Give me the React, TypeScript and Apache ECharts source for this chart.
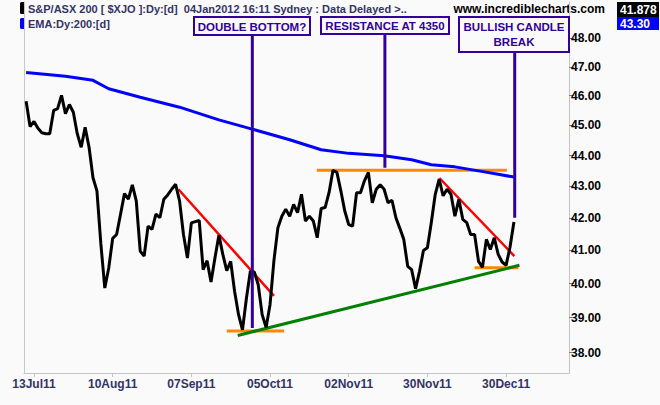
import React, { useEffect, useRef } from 'react';
import * as echarts from 'echarts';

// Trading-day index of first price value (11 Jul 2011 = -2, 13 Jul 2011 = 0)
const startIdx = -2;

// S&P/ASX 200 daily close (thousands), 11 Jul 2011 .. 04 Jan 2012
const priceVals = [
  45.81, 44.96, 45.13, 44.90, 44.75, 44.72, 44.72, 45.50, 45.56, 46.01,
  45.39, 45.70, 45.44, 44.72, 44.27, 44.93, 44.27, 43.28, 42.86, 41.20,
  39.87, 40.47, 41.37, 41.49, 42.12, 42.77, 42.60, 43.05, 42.54, 40.98,
  40.83, 41.75, 41.65, 42.12, 42.01, 42.59, 42.73, 42.91, 43.07, 42.54,
  41.49, 40.77, 41.85, 41.89, 41.93, 40.42, 40.69, 40.05, 40.77, 41.47,
  40.88, 40.39, 40.67, 39.77, 39.09, 38.65, 39.57, 40.37, 40.35, 39.97,
  39.09, 38.72, 39.38, 40.70, 41.70, 42.06, 42.28, 42.06, 42.43, 42.17,
  42.75, 41.91, 42.06, 41.91, 41.39, 42.30, 42.33, 42.80, 43.52, 43.45,
  42.86, 42.22, 41.80, 41.75, 42.80, 42.80, 43.18, 43.45, 42.48, 42.91,
  43.05, 42.91, 42.48, 42.56, 42.01, 41.68, 41.34, 40.52, 40.42, 39.85,
  40.37, 41.00, 41.08, 41.86, 42.75, 43.23, 42.70, 42.91, 42.75, 42.06,
  42.59, 41.96, 41.86, 41.49, 41.49, 40.67, 40.49, 41.34, 41.03, 41.39,
  40.88, 40.65, 40.55, 41.10, 41.878,
];

// EMA 200 readings (trading-day index, value)
const emaIdx = [-2, 8, 15, 19, 27, 37, 47, 55, 65, 73, 80, 89, 96, 101, 107, 113, 118, 122];
const emaVals = [46.80, 46.67, 46.53, 46.24, 45.95, 45.61, 45.18, 44.89, 44.52, 44.19, 44.07, 43.99, 43.86, 43.70, 43.63, 43.50, 43.39, 43.30];

// X tick labels
const tickIdx = [0, 20, 40, 60, 80, 100, 120];
const tickLabels = ['13Jul11', '10Aug11', '07Sep11', '05Oct11', '02Nov11', '30Nov11', '30Dec11'];

// Y tick labels
const yTicks = [38, 39, 40, 41, 42, 43, 44, 45, 46, 47, 48];

// Annotation segments [index, value]
const redLines = [
  [[36.7, 42.91], [61.0, 39.64]],
  [[103.05, 43.27], [122.1, 40.83]],
];
const greenLine = [[51.8, 38.49], [123.4, 40.55]];
const orangeLines = [
  [[49.0, 38.62], [63.6, 38.62]],
  [[71.9, 43.52], [120.2, 43.52]],
  [[112.0, 40.48], [123.1, 40.48]],
];
const purpleLines = [
  [[55.5, 48.12], [55.5, 38.70]],
  [[89.2, 48.18], [89.2, 43.60]],
  [[122.2, 47.52], [122.2, 42.01]],
];

const lastPrice = '41.878';
const lastEma = '43.30';

const FONT = '"Liberation Sans", Arial, sans-serif';
const NARROW = '"Liberation Sans Narrow", "Liberation Sans", Arial, sans-serif';
const PURPLE = '#330099';

const toLog = (pts: number[][]) => pts.map(([i, v]) => [i, Math.log(v)]);

const seg = (pts: number[][], color: string, width: number, z: number) => ({
  type: 'line',
  data: toLog(pts),
  showSymbol: false,
  symbol: 'none',
  silent: true,
  lineStyle: { color, width },
  z,
});

export default function App() {
  const ref = useRef<HTMLDivElement>(null);
  useEffect(() => {
    document.body.style.margin = '0';
    const chart = echarts.init(ref.current!, null, { renderer: 'svg' });
    const priceData = priceVals.map((v, i) => [i + startIdx, Math.log(v)]);
    const emaData = emaVals.map((v, i) => [emaIdx[i], Math.log(v)]);
    const yMin = Math.log(37.43);
    const yMax = Math.log(49.32);
    const logTicks = yTicks.map((t) => Math.log(t));

    const option: any = {
      animation: false,
      backgroundColor: '#fafafa',
      grid: { left: 24, right: 91, top: 2, bottom: 32, containLabel: false, outerBoundsMode: 'none' },
      xAxis: {
        type: 'value',
        min: -2.54,
        max: 136.0,
        axisLine: { show: true, onZero: false, lineStyle: { color: '#c4c4c4', width: 1 } },
        axisTick: { show: true, customValues: tickIdx, length: 4, lineStyle: { color: '#c4c4c4' } },
        axisLabel: {
          customValues: tickIdx,
          formatter: (v: number) => tickLabels[tickIdx.indexOf(Math.round(v))] ?? '',
          color: '#333366',
          fontWeight: 'bold',
          fontSize: 12,
          fontFamily: NARROW,
          margin: 5,
        },
        splitLine: { show: false },
      },
      yAxis: [
        {
          type: 'value',
          position: 'right',
          min: yMin,
          max: yMax,
          axisLine: { show: true, onZero: false, lineStyle: { color: '#c4c4c4', width: 1 } },
          axisTick: { show: true, customValues: logTicks, length: 5, lineStyle: { color: '#777' } },
          axisLabel: {
            customValues: logTicks,
            formatter: (v: number) => Math.exp(v).toFixed(2),
            color: '#000',
            fontWeight: 'bold',
            fontSize: 12,
            fontFamily: FONT,
            margin: 2,
          },
          splitLine: { show: false },
        },
        {
          type: 'value',
          position: 'left',
          min: yMin,
          max: yMax,
          axisLine: { show: true, onZero: false, lineStyle: { color: '#c8c8c8', width: 1 } },
          axisTick: { show: false },
          axisLabel: { show: false },
          splitLine: { show: false },
        },
      ],
      series: [
        ...orangeLines.map((s) => seg(s, '#ff8800', 3, 2)),
        seg(greenLine, '#008000', 3, 2),
        ...redLines.map((s) => seg(s, '#ff0000', 2.5, 3)),
        {
          type: 'line',
          data: emaData,
          showSymbol: false,
          symbol: 'none',
          silent: true,
          lineStyle: { color: '#0000ff', width: 3 },
          z: 4,
        },
        {
          type: 'line',
          data: priceData,
          showSymbol: false,
          symbol: 'none',
          silent: true,
          lineStyle: { color: '#000000', width: 3 },
          z: 5,
        },
        ...purpleLines.map((s) => seg(s, PURPLE, 3, 6)),
      ],
      graphic: [
        { type: 'rect', shape: { x: 20, y: 2, width: 5, height: 12, r: 1.5 }, style: { fill: '#000' } },
        { type: 'rect', shape: { x: 20, y: 18, width: 5, height: 11, r: 1.5 }, style: { fill: '#0000ff' } },
        {
          type: 'text', x: 28, y: 9,
          style: { text: 'S&P/ASX 200 [ $XJO ]:Dy:[d]  04Jan2012 16:11 Sydney : Data Delayed >..', fill: '#333366', font: `bold 11px ${FONT}`, textVerticalAlign: 'middle' },
        },
        {
          type: 'text', x: 28, y: 24,
          style: { text: 'EMA:Dy:200:[d]', fill: '#333366', font: `bold 11px ${FONT}`, textVerticalAlign: 'middle' },
        },
        {
          type: 'text', x: 605, y: 9,
          style: { text: 'www.incrediblecharts.com', fill: '#000', font: `bold 12px ${FONT}`, textAlign: 'right', textVerticalAlign: 'middle' },
        },
        { type: 'rect', shape: { x: 617, y: 2, width: 42, height: 15 }, style: { fill: '#000' } },
        { type: 'text', x: 620, y: 9.5, style: { text: lastPrice, fill: '#fff', font: `bold 12px ${FONT}`, textVerticalAlign: 'middle' } },
        { type: 'rect', shape: { x: 617, y: 17, width: 42, height: 13 }, style: { fill: '#0000ff' } },
        { type: 'text', x: 620, y: 24, style: { text: lastEma, fill: '#fff', font: `bold 12px ${FONT}`, textVerticalAlign: 'middle' } },
        // annotation boxes
        { type: 'rect', z: 10, shape: { x: 194, y: 17, width: 116, height: 18 }, style: { fill: '#fafafa', stroke: PURPLE, lineWidth: 2 } },
        { type: 'text', z: 11, x: 252, y: 26.5, style: { text: 'DOUBLE BOTTOM?', fill: PURPLE, font: `bold 11.5px ${FONT}`, textAlign: 'center', textVerticalAlign: 'middle' } },
        { type: 'rect', z: 10, shape: { x: 321, y: 17, width: 128, height: 17 }, style: { fill: '#fafafa', stroke: PURPLE, lineWidth: 2 } },
        { type: 'text', z: 11, x: 385, y: 26, style: { text: 'RESISTANCE AT 4350', fill: PURPLE, font: `bold 11.5px ${FONT}`, textAlign: 'center', textVerticalAlign: 'middle' } },
        { type: 'rect', z: 10, shape: { x: 459, y: 17, width: 110, height: 35 }, style: { fill: '#fafafa', stroke: PURPLE, lineWidth: 2 } },
        { type: 'text', z: 11, x: 514, y: 26.5, style: { text: 'BULLISH CANDLE', fill: PURPLE, font: `bold 11.5px ${FONT}`, textAlign: 'center', textVerticalAlign: 'middle' } },
        { type: 'text', z: 11, x: 514, y: 42, style: { text: 'BREAK', fill: PURPLE, font: `bold 11.5px ${FONT}`, textAlign: 'center', textVerticalAlign: 'middle' } },
      ],
    };
    chart.setOption(option);
    return () => chart.dispose();
  }, []);
  return <div ref={ref} style={{ width: 660, height: 405 }} />;
}
